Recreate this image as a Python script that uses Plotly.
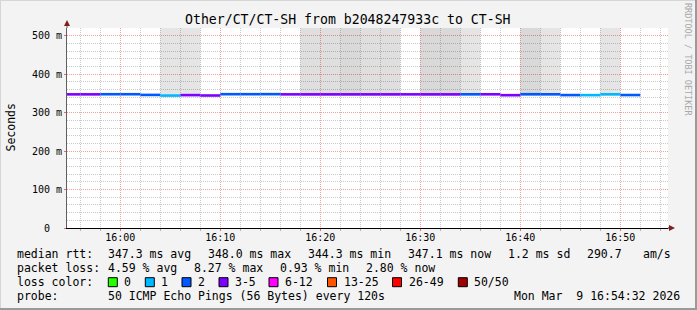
import plotly.graph_objects as go
from datetime import datetime, timedelta

# ---------------- data ----------------
interval_start = ["15:54", "15:56", "15:58", "16:00", "16:02", "16:04", "16:06", "16:08",
                  "16:10", "16:12", "16:14", "16:16", "16:18", "16:20", "16:22", "16:24",
                  "16:26", "16:28", "16:30", "16:32", "16:34", "16:36", "16:38", "16:40",
                  "16:42", "16:44", "16:46", "16:48", "16:50"]
median_rtt_ms = [347.5, 347.5, 347.8, 347.8, 346.0, 344.3, 345.5, 344.5,
                 347.9, 347.9, 348.0, 347.5, 347.5, 347.5, 347.5, 347.5,
                 347.5, 347.5, 347.5, 347.5, 347.7, 347.6, 345.3, 347.8,
                 347.7, 345.6, 345.5, 347.6, 345.7]
lost_pings = [4, 3, 2, 2, 2, 1, 3, 4,
              2, 2, 2, 3, 4, 3, 3, 4,
              3, 3, 3, 3, 2, 3, 4, 2,
              2, 2, 1, 1, 2]
# smoke density (0 = none) of pings above the median, extending beyond the top of the graph
smoke_density = [0, 0, 0, 0, 0, 1, 1, 0,
                 0, 0, 0, 0, 2, 2, 3, 2,
                 2, 0, 3, 3, 1, 0, 0, 3,
                 1, 0, 0, 1, 0]
smoke_low_ms = 343.0
smoke_high_ms = 650.0

loss_labels = ["0", "1", "2", "3-5", "6-12", "13-25", "26-49", "50/50"]
loss_upper = [0, 1, 2, 5, 12, 25, 49, 50]
loss_colors = ["#26ff00", "#00b8ff", "#0059ff", "#7e00ff", "#ff00ff", "#ff5500", "#ff0000", "#a10000"]

rtt_stats = ["347.3 ms avg", "348.0 ms max", "344.3 ms min", "347.1 ms now", "1.2 ms sd", "290.7", "am/s"]
loss_stats = ["4.59 % avg", "8.27 % max", "0.93 % min", "2.80 % now"]
probe_text = "50 ICMP Echo Pings (56 Bytes) every 120s"
stamp_text = "Mon Mar \u00a09 16:54:32 2026"
title_text = "Other/CT/CT-SH from b2048247933c to CT-SH"

y_tickvals = [0, 100, 200, 300, 400, 500]
y_ticktext = ["0\u00a0\u00a0", "100 m", "200 m", "300 m", "400 m", "500 m"]

# ---------------- layout geometry ----------------
W, H = 697, 310
PL, PR, PT, PB = 67, 668, 28, 228
FONT = "DejaVu Sans Mono"
DAY = "2026-03-09"
STEP = timedelta(minutes=2)


def px(xp):
    return (xp - PL) / (PR - PL)


def py(yp):
    return (PB - yp) / (PB - PT)


def loss_color(n):
    for up, c in zip(loss_upper, loss_colors):
        if n <= up:
            return c
    return loss_colors[-1]


starts = [datetime.strptime(f"{DAY} {t}", "%Y-%m-%d %H:%M") for t in interval_start]

fig = go.Figure()

# smoke
shade = {1: "rgba(0,0,0,0.10)", 2: "rgba(0,0,0,0.125)", 3: "rgba(0,0,0,0.15)"}
for lvl in (1, 2, 3):
    xs, bases, hs = [], [], []
    for s, d in zip(starts, smoke_density):
        if d == lvl:
            xs.append(s + STEP / 2)
            bases.append(smoke_low_ms)
            hs.append(smoke_high_ms - smoke_low_ms)
    fig.add_trace(go.Bar(x=xs, y=hs, base=bases, width=[STEP.total_seconds() * 1000] * len(xs),
                         marker=dict(color=shade[lvl], line=dict(width=0)),
                         showlegend=False, hoverinfo="skip"))

# median line coloured by loss
groups = {}
for s, v, n in zip(starts, median_rtt_ms, lost_pings):
    c = loss_color(n)
    g = groups.setdefault(c, ([], []))
    g[0].extend([s, s + STEP, None])
    g[1].extend([v, v, None])
for c, (xs, ys) in groups.items():
    fig.add_trace(go.Scatter(x=xs, y=ys, mode="lines", line=dict(color=c, width=2.6),
                             connectgaps=False, showlegend=False, hoverinfo="skip"))

major_grid = "#f1a0a0"
minor_grid = "#c9c9c9"

fig.update_xaxes(
    type="date",
    range=[f"{DAY} 15:54:40", f"{DAY} 16:54:46"],
    tick0=f"{DAY} 16:00", dtick=600000, tickformat="%H:%M",
    showgrid=True, gridcolor=major_grid, griddash="1px,1px", gridwidth=1,
    minor=dict(dtick=120000, tick0=f"{DAY} 16:00", showgrid=True, gridcolor=minor_grid,
               griddash="1px,1px", ticks="outside", ticklen=2, tickcolor="#b0b0b0"),
    ticks="outside", ticklen=2, tickcolor="#e07070", ticklabelstandoff=-2,
    showline=True, linecolor="#000000", linewidth=1,
    zeroline=False, tickfont=dict(family=FONT, size=10, color="#000"),
    fixedrange=True,
)
fig.update_yaxes(
    range=[0, 520],
    tickvals=y_tickvals, ticktext=y_ticktext,
    showgrid=True, gridcolor=major_grid, griddash="1px,1px", gridwidth=1,
    minor=dict(dtick=20, tick0=0, showgrid=True, gridcolor=minor_grid, griddash="1px,1px"),
    ticks="outside", ticklen=2, tickcolor="#e07070",
    showline=True, linecolor="#606060", linewidth=1,
    zeroline=False, tickfont=dict(family=FONT, size=10, color="#000"),
    fixedrange=True,
)

ann = []


def text(xp, yp, t, size=11.5, anchor="left", color="#000", angle=0):
    ann.append(dict(x=px(xp), y=py(yp), xref="paper", yref="paper", text=t, showarrow=False,
                    xanchor=anchor, yanchor="middle", borderpad=0, textangle=angle,
                    font=dict(family=FONT, size=size, color=color)))


text(348, 19, title_text, size=13.2, anchor="center")
text(10.5, 128, "Seconds", size=11.5, anchor="center", angle=-90)
text(688, 59, "RRDTOOL / TOBI OETIKER", size=8.5, anchor="center", color="#a8a8a8", angle=90)

L1, L2, L3, L4 = 254, 268, 282, 296
text(16, L1, "median rtt:")
for xp, t in zip([107.3, 207.3, 307.3, 407.3, 507.3, 586.3, 642.3], rtt_stats):
    text(xp, L1, t)
text(16, L2, "packet loss:")
for xp, t in zip([107.3, 192.7, 279.3, 365.0], loss_stats):
    text(xp, L2, t)
text(16, L3, "loss color:")
sq_x = [108.3, 145.3, 182.0, 219.0, 269.0, 327.5, 392.5, 458.3]
shapes = []
for xp, lab, c in zip(sq_x, loss_labels, loss_colors):
    shapes.append(dict(type="rect", xref="paper", yref="paper",
                       x0=px(xp), x1=px(xp + 9), y0=py(286.7), y1=py(277.7),
                       fillcolor=c, line=dict(color="#000", width=1)))
    text(xp + 15, L3, lab)
text(16, L4, "probe:")
text(107.3, L4, probe_text)
text(512.7, L4, stamp_text)

arrow = "#7f1f1f"
# axis extensions and arrows
shapes.append(dict(type="line", xref="paper", yref="paper", x0=0, x1=0, y0=1, y1=py(25),
                   line=dict(color="#606060", width=1)))
shapes.append(dict(type="path", xref="paper", yref="paper",
                   path=f"M {px(64)} {py(26)} L {px(70)} {py(26)} L {px(67)} {py(20)} Z",
                   fillcolor=arrow, line=dict(color=arrow, width=0)))
shapes.append(dict(type="line", xref="paper", yref="paper", x0=1, x1=px(670), y0=0, y1=0,
                   line=dict(color="#000", width=1)))
shapes.append(dict(type="path", xref="paper", yref="paper",
                   path=f"M {px(669)} {py(225)} L {px(669)} {py(231)} L {px(675)} {py(228)} Z",
                   fillcolor=arrow, line=dict(color=arrow, width=0)))
# frame
shapes.append(dict(type="rect", xref="paper", yref="paper", x0=px(0), x1=px(697), y0=py(0), y1=py(1),
                   fillcolor="#d6d6d6", line=dict(width=0), layer="below"))
shapes.append(dict(type="rect", xref="paper", yref="paper", x0=px(0), x1=px(1), y0=py(0), y1=py(310),
                   fillcolor="#d6d6d6", line=dict(width=0), layer="below"))
shapes.append(dict(type="rect", xref="paper", yref="paper", x0=px(0), x1=px(697), y0=py(308), y1=py(310),
                   fillcolor="#9a9a9a", line=dict(width=0)))
shapes.append(dict(type="rect", xref="paper", yref="paper", x0=px(695), x1=px(697), y0=py(0), y1=py(310),
                   fillcolor="#9a9a9a", line=dict(width=0)))

fig.update_layout(
    width=W, height=H,
    margin=dict(l=PL, r=W - PR, t=PT, b=H - PB, pad=0),
    paper_bgcolor="#f3f3f3", plot_bgcolor="#ffffff",
    barmode="overlay", showlegend=False,
    annotations=ann, shapes=shapes,
    font=dict(family=FONT),
)

fig.write_html("out.html")
